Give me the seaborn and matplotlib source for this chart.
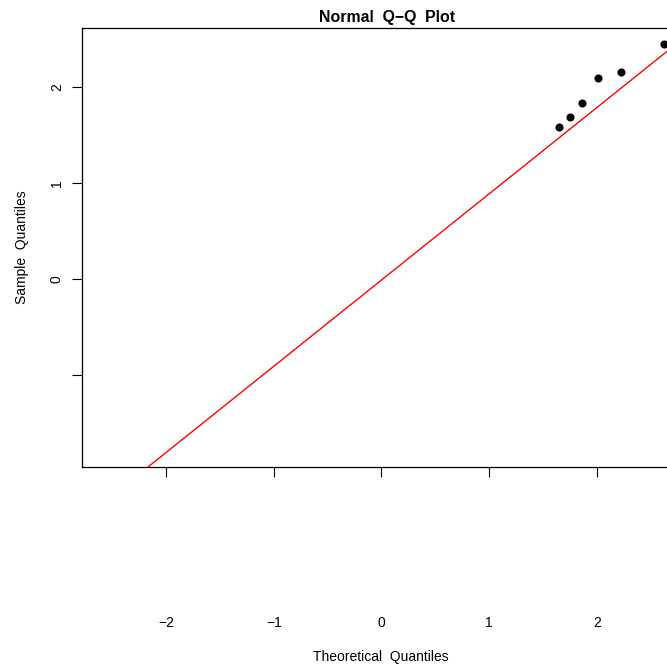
import matplotlib
matplotlib.use("Agg")
import matplotlib.pyplot as plt
import seaborn as sns
import pandas as pd

# Theoretical vs sample quantiles of the plotted observations
theoretical = [1.650, 1.749, 1.866, 2.012, 2.223, 2.622]
sample = [1.580, 1.691, 1.830, 2.097, 2.159, 2.451]

# Reference line (intercept, slope)
line_intercept = -0.011
line_slope = 0.898

x_ticks = [-2, -1, 0, 1, 2]
x_tick_labels = ["\u22122", "\u22121", "0", "1", "2"]
y_ticks = [-1, 0, 1, 2]
y_tick_labels = ["", "0", "1", "2"]

sns.set_style("white")
plt.rcParams["font.family"] = ["Liberation Sans", "DejaVu Sans"]
plt.rcParams["text.color"] = "black"
plt.rcParams["axes.labelcolor"] = "black"
plt.rcParams["xtick.color"] = "black"
plt.rcParams["ytick.color"] = "black"

df = pd.DataFrame({"theoretical": theoretical, "sample": sample})

fig = plt.figure(figsize=(6.67, 6.65), dpi=100)
ax = fig.add_axes([82 / 667, (665 - 467) / 665, 610 / 667, (467 - 28) / 665])

sns.scatterplot(data=df, x="theoretical", y="sample", ax=ax, color="black",
                s=34, marker="o", edgecolor="black", linewidth=0, clip_on=False,
                zorder=3)
ax.axline((0, line_intercept), slope=line_slope, color="red", linewidth=1)

ax.set_xlim(-2.781, 2.885)
ax.set_ylim(-1.958, 2.615)

ax.set_xticks(x_ticks)
ax.set_xticklabels(x_tick_labels)
ax.set_yticks(y_ticks)
ax.set_yticklabels(y_tick_labels, rotation=90, va="center")

ax.tick_params(axis="x", direction="out", length=7.5, width=0.8, color="black",
               pad=100, labelsize=10, bottom=True)
ax.tick_params(axis="y", direction="out", length=7, width=0.8, color="black",
               pad=6, labelsize=10, left=True)

for side in ["left", "bottom", "top", "right"]:
    ax.spines[side].set_color("black")
    ax.spines[side].set_linewidth(0.9)

ax.set_xlabel("Theoretical  Quantiles", fontsize=10)
ax.xaxis.set_label_coords((381 - 82) / 610, (467 - 650) / 439)
ax.set_ylabel("Sample  Quantiles", fontsize=10, labelpad=15)
ax.set_title("Normal  Q\u2212Q  Plot", fontsize=11.4, fontweight="bold", pad=4)

fig.savefig("out.png", dpi=100)
